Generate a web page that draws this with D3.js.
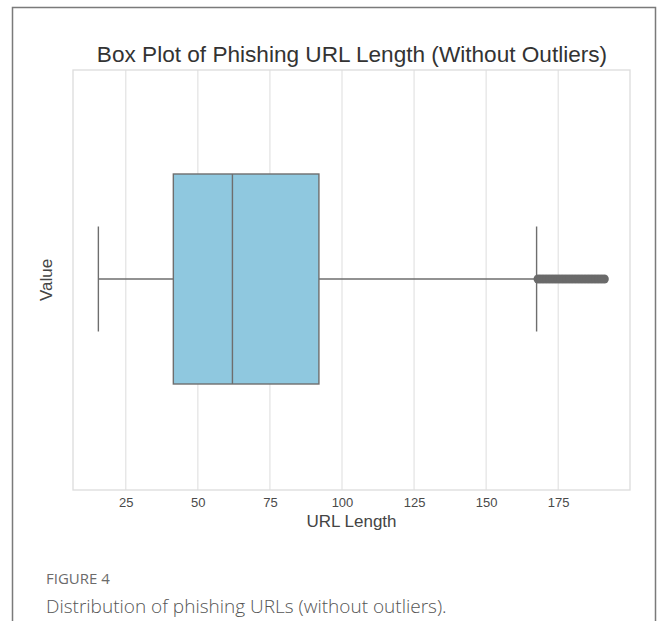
<!DOCTYPE html>
<html>
<head>
<meta charset="utf-8">
<script src="https://cdn.jsdelivr.net/npm/d3@7"></script>
<style>
  body { margin: 0; background: #fff; }
</style>
</head>
<body>
<script>
// box plot stats
var labels = ["Value"];
var whiskerLow = [15.5];
var q1 = [41.5];
var median = [62];
var q3 = [92];
var whiskerHigh = [167.5];
var outliers = [168, 169, 170, 171, 172, 173, 174, 175, 176, 177, 178, 179, 180, 181, 182, 183, 184, 185, 186, 187, 188, 189, 190, 191];
var xTicks = [25, 50, 75, 100, 125, 150, 175];

var W = 657, H = 621;
var mLeft = 73, mRight = 630, mTop = 70, mBottom = 490;
var font = "Liberation Sans, Arial, sans-serif";

var svg = d3.select("body").append("svg")
    .attr("width", W)
    .attr("height", H);

// page frame
svg.append("path")
    .attr("d", "M12.5," + H + " V7.5 H655.5 V" + H)
    .attr("fill", "none")
    .attr("stroke", "#7a7a7a")
    .attr("stroke-width", 1.5);

var x = d3.scaleLinear()
    .domain([6.7, 199.9])
    .range([mLeft, mRight]);

var y = d3.scaleBand()
    .domain(labels)
    .range([mTop, mBottom]);

var boxHalf = y.bandwidth() * 0.25;
var capHalf = y.bandwidth() * 0.125;

// grid
svg.selectAll(".grid")
    .data(xTicks)
    .enter().append("line")
    .attr("x1", function(d) { return x(d); })
    .attr("x2", function(d) { return x(d); })
    .attr("y1", mTop)
    .attr("y2", mBottom)
    .style("stroke", "#e5e5e5")
    .style("stroke-width", 1.3);

// plot frame
svg.append("rect")
    .attr("x", mLeft)
    .attr("y", mTop)
    .attr("width", mRight - mLeft)
    .attr("height", mBottom - mTop)
    .attr("fill", "none")
    .style("stroke", "#dcdcdc")
    .style("stroke-width", 1.3);

var xAxis = d3.axisBottom(x).tickValues(xTicks).tickSize(0).tickPadding(8);
var gx = svg.append("g")
    .attr("transform", "translate(0," + mBottom + ")")
    .call(xAxis);
gx.select(".domain").remove();
gx.selectAll("text")
    .style("font-family", font)
    .style("font-size", "13px")
    .attr("fill", "#4a4a4a");

labels.forEach(function(lab, i) {
    var cy = y(lab) + y.bandwidth() / 2 - 1;
    var col = "#6e6e6e";

    // whiskers
    svg.append("line")
        .attr("x1", x(whiskerLow[i])).attr("x2", x(q1[i]))
        .attr("y1", cy).attr("y2", cy)
        .style("stroke", col).style("stroke-width", 1.4);
    svg.append("line")
        .attr("x1", x(q3[i])).attr("x2", x(whiskerHigh[i]))
        .attr("y1", cy).attr("y2", cy)
        .style("stroke", col).style("stroke-width", 1.4);
    [whiskerLow[i], whiskerHigh[i]].forEach(function(v) {
        svg.append("line")
            .attr("x1", x(v)).attr("x2", x(v))
            .attr("y1", cy - capHalf).attr("y2", cy + capHalf)
            .style("stroke", col).style("stroke-width", 1.4);
    });

    // box
    svg.append("rect")
        .attr("x", x(q1[i]))
        .attr("y", cy - boxHalf)
        .attr("width", x(q3[i]) - x(q1[i]))
        .attr("height", boxHalf * 2)
        .attr("fill", "#8fc8df")
        .style("stroke", col)
        .style("stroke-width", 1.4);

    svg.append("line")
        .attr("x1", x(median[i])).attr("x2", x(median[i]))
        .attr("y1", cy - boxHalf).attr("y2", cy + boxHalf)
        .style("stroke", col).style("stroke-width", 1.4);

    // outliers
    svg.selectAll(".out" + i)
        .data(outliers)
        .enter().append("circle")
        .attr("cx", function(d) { return x(d); })
        .attr("cy", cy)
        .attr("r", 4.5)
        .attr("fill", "#6a6a6a");
});

// titles
svg.append("text")
    .attr("x", (mLeft + mRight) / 2 + 0.5)
    .attr("y", 62)
    .attr("text-anchor", "middle")
    .text("Box Plot of Phishing URL Length (Without Outliers)")
    .style("font-family", font)
    .style("font-size", "22.6px")
    .attr("fill", "#333");

svg.append("text")
    .attr("x", (mLeft + mRight) / 2)
    .attr("y", 527)
    .attr("text-anchor", "middle")
    .text("URL Length")
    .style("font-family", font)
    .style("font-size", "17px")
    .attr("fill", "#444");

svg.append("text")
    .attr("transform", "translate(52," + ((mTop + mBottom) / 2) + ") rotate(-90)")
    .attr("text-anchor", "middle")
    .text("Value")
    .style("font-family", font)
    .style("font-size", "17px")
    .attr("fill", "#444");

// caption
svg.append("text")
    .attr("x", 46)
    .attr("y", 584)
    .text("FIGURE 4")
    .style("font-family", "Open Sans, sans-serif")
    .style("font-size", "15px")
    .attr("fill", "#6b6b6b");

svg.append("text")
    .attr("x", 46)
    .attr("y", 613)
    .text("Distribution of phishing URLs (without outliers).")
    .style("font-family", "Open Sans, sans-serif")
    .style("font-size", "19px")
    .style("font-weight", 300)
    .attr("fill", "#555");
</script>
</body>
</html>
